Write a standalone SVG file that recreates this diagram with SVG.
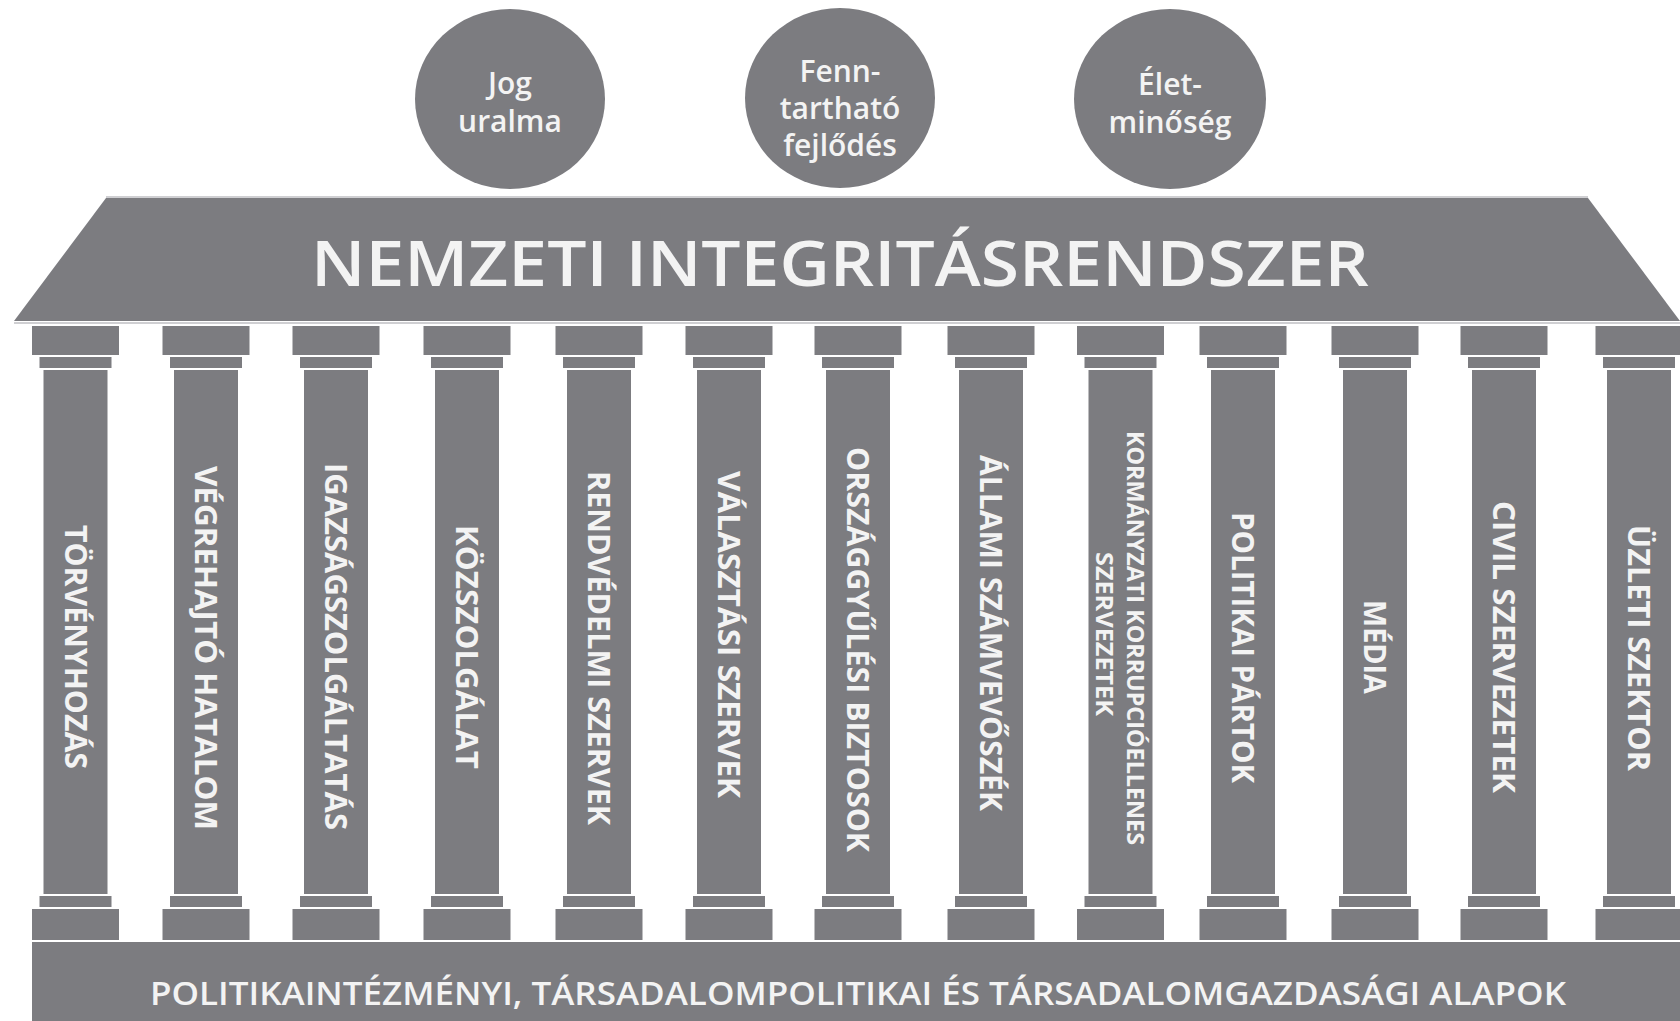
<svg xmlns="http://www.w3.org/2000/svg" xmlns:xlink="http://www.w3.org/1999/xlink" width="1680" height="1021" viewBox="0 0 1680 1021">
<style>
.g{fill:#7c7c80}
.hl{stroke:#cfcfd2;stroke-width:2;fill:none}
.t{font-family:"Open Sans","Noto Sans","DejaVu Sans",sans-serif;fill:#f3f3f3;font-weight:600;text-anchor:middle}
.ct{font-size:30px}
.pt{font-size:31px;font-weight:700}
.pt2{font-size:23px;font-weight:700}
</style>
<defs>
<g id="col">
<rect class="g" x="-43.5" y="326" width="87" height="29"/>
<rect class="g" x="-36" y="357" width="72" height="11"/>
<rect class="g" x="-32" y="370" width="64" height="524"/>
<rect class="g" x="-36" y="896" width="72" height="11"/>
<rect class="g" x="-43.5" y="909" width="87" height="31"/>
</g>
</defs>
<rect width="1680" height="1021" fill="#ffffff"/>

<g id="circle-jog">
<ellipse class="g" cx="510" cy="99" rx="95" ry="90"/>
<text class="t ct" x="510" y="94">Jog</text>
<text class="t ct" x="510" y="132">uralma</text>
</g>
<g id="circle-fenntarthato">
<ellipse class="g" cx="840" cy="98" rx="95" ry="90"/>
<text class="t ct" x="840" y="82">Fenn-</text>
<text class="t ct" x="840" y="119">tartható</text>
<text class="t ct" x="840" y="156">fejlődés</text>
</g>
<g id="circle-eletminoseg">
<ellipse class="g" cx="1170" cy="99" rx="96" ry="90"/>
<text class="t ct" x="1170" y="95">Élet-</text>
<text class="t ct" x="1170" y="133">minőség</text>
</g>

<g id="roof">
<polygon class="g" points="106,198 1588,198 1680,321 14,321"/>
<line class="hl" x1="106" y1="197" x2="1588" y2="197"/>
<line class="hl" x1="14" y1="323" x2="1680" y2="323"/>
<text class="t" x="840" y="286" font-size="63" textLength="1058" lengthAdjust="spacingAndGlyphs">NEMZETI INTEGRITÁSRENDSZER</text>
</g>

<g id="pillar-1"><use xlink:href="#col" href="#col" x="75.5"/>
<text class="t pt" transform="translate(75.5,647) rotate(90)" x="0" y="11" textLength="244" lengthAdjust="spacingAndGlyphs">TÖRVÉNYHOZÁS</text></g>
<g id="pillar-2"><use xlink:href="#col" href="#col" x="206"/>
<text class="t pt" transform="translate(206,648) rotate(90)" x="0" y="11" textLength="364" lengthAdjust="spacingAndGlyphs">VÉGREHAJTÓ HATALOM</text></g>
<g id="pillar-3"><use xlink:href="#col" href="#col" x="336"/>
<text class="t pt" transform="translate(336,646.5) rotate(90)" x="0" y="11" textLength="367" lengthAdjust="spacingAndGlyphs">IGAZSÁGSZOLGÁLTATÁS</text></g>
<g id="pillar-4"><use xlink:href="#col" href="#col" x="467"/>
<text class="t pt" transform="translate(467,647) rotate(90)" x="0" y="11" textLength="244" lengthAdjust="spacingAndGlyphs">KÖZSZOLGÁLAT</text></g>
<g id="pillar-5"><use xlink:href="#col" href="#col" x="599"/>
<text class="t pt" transform="translate(599,648) rotate(90)" x="0" y="11" textLength="354" lengthAdjust="spacingAndGlyphs">RENDVÉDELMI SZERVEK</text></g>
<g id="pillar-6"><use xlink:href="#col" href="#col" x="729"/>
<text class="t pt" transform="translate(729,634.5) rotate(90)" x="0" y="11" textLength="327" lengthAdjust="spacingAndGlyphs">VÁLASZTÁSI SZERVEK</text></g>
<g id="pillar-7"><use xlink:href="#col" href="#col" x="858"/>
<text class="t pt" transform="translate(858,649.5) rotate(90)" x="0" y="11" textLength="405" lengthAdjust="spacingAndGlyphs">ORSZÁGGYŰLÉSI BIZTOSOK</text></g>
<g id="pillar-8"><use xlink:href="#col" href="#col" x="991"/>
<text class="t pt" transform="translate(991,633) rotate(90)" x="0" y="11" textLength="356" lengthAdjust="spacingAndGlyphs">ÁLLAMI SZÁMVEVŐSZÉK</text></g>
<g id="pillar-9"><use xlink:href="#col" href="#col" x="1120.5"/>
<text class="t pt2" transform="translate(1120.5,638) rotate(90)" x="0" y="-6" textLength="414" lengthAdjust="spacingAndGlyphs">KORMÁNYZATI KORRUPCIÓELLENES</text>
<text class="t pt2" transform="translate(1120.5,634) rotate(90)" x="0" y="25" textLength="164" lengthAdjust="spacingAndGlyphs">SZERVEZETEK</text></g>
<g id="pillar-10"><use xlink:href="#col" href="#col" x="1243"/>
<text class="t pt" transform="translate(1243,647.5) rotate(90)" x="0" y="11" textLength="271" lengthAdjust="spacingAndGlyphs">POLITIKAI PÁRTOK</text></g>
<g id="pillar-11"><use xlink:href="#col" href="#col" x="1375"/>
<text class="t pt" transform="translate(1375,647) rotate(90)" x="0" y="11" textLength="94" lengthAdjust="spacingAndGlyphs">MÉDIA</text></g>
<g id="pillar-12"><use xlink:href="#col" href="#col" x="1504"/>
<text class="t pt" transform="translate(1504,647) rotate(90)" x="0" y="11" textLength="292" lengthAdjust="spacingAndGlyphs">CIVIL SZERVEZETEK</text></g>
<g id="pillar-13"><use xlink:href="#col" href="#col" x="1639"/>
<text class="t pt" transform="translate(1639,648) rotate(90)" x="0" y="11" textLength="246" lengthAdjust="spacingAndGlyphs">ÜZLETI SZEKTOR</text></g>

<g id="foundation">
<rect class="g" x="32" y="942" width="1648" height="79"/>
<text class="t" x="858" y="1005" font-size="32" textLength="1416" lengthAdjust="spacingAndGlyphs">POLITIKAINTÉZMÉNYI, TÁRSADALOMPOLITIKAI ÉS TÁRSADALOMGAZDASÁGI ALAPOK</text>
</g>

<g id="connectors"/>
</svg>
